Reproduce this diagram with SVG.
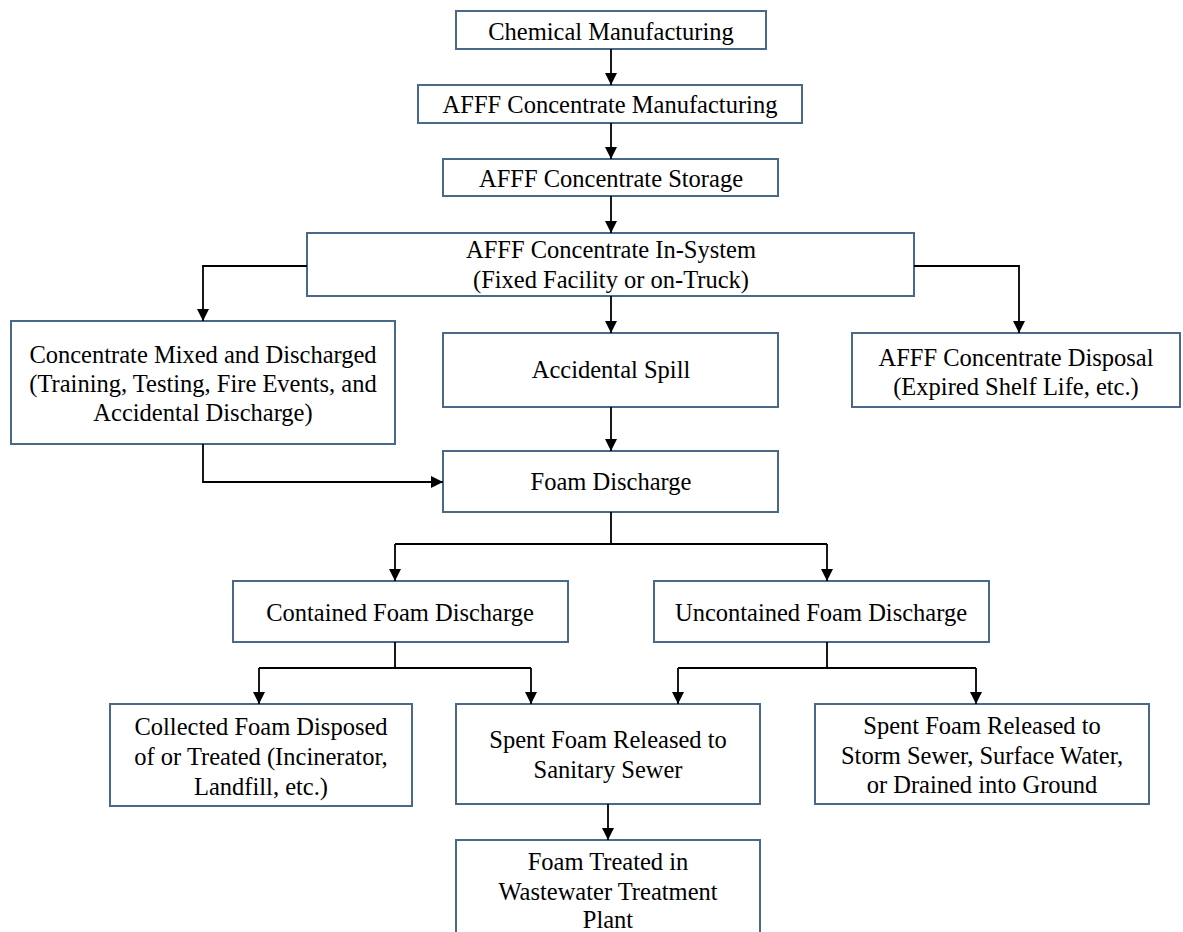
<svg xmlns="http://www.w3.org/2000/svg" width="1183" height="932" viewBox="0 0 1183 932">
<style>
.box{fill:#ffffff;stroke:#4a6888;stroke-width:2}
.t{font-family:"Liberation Serif","Times New Roman",serif;font-size:24.5px;fill:#000;text-anchor:middle}
.c{fill:none;stroke:#000;stroke-width:1.8}
</style>
<defs>
<marker id="ah" markerUnits="userSpaceOnUse" markerWidth="14" markerHeight="14" refX="12" refY="6" orient="auto">
<path d="M0,0 L12,6 L0,12 Z" fill="#000"/>
</marker>
</defs>
<rect width="1183" height="932" fill="#ffffff"/>
<g id="n1"><rect class="box" x="456" y="11" width="310" height="38"/><text class="t" x="611" y="40">Chemical Manufacturing</text></g>
<g id="n2"><rect class="box" x="418" y="85" width="384" height="38"/><text class="t" x="610" y="113">AFFF Concentrate Manufacturing</text></g>
<g id="n3"><rect class="box" x="443" y="159" width="335" height="37"/><text class="t" x="611" y="187">AFFF Concentrate Storage</text></g>
<g id="n4"><rect class="box" x="307" y="233" width="607" height="63"/><text class="t" x="611" y="258">AFFF Concentrate In-System</text><text class="t" x="611" y="288">(Fixed Facility or on-Truck)</text></g>
<g id="n5"><rect class="box" x="11" y="321" width="384" height="123"/><text class="t" x="203" y="363">Concentrate Mixed and Discharged</text><text class="t" x="203" y="392">(Training, Testing, Fire Events, and</text><text class="t" x="203" y="421">Accidental Discharge)</text></g>
<g id="n6"><rect class="box" x="443" y="333" width="335" height="74"/><text class="t" x="611" y="378">Accidental Spill</text></g>
<g id="n7"><rect class="box" x="852" y="333" width="328" height="74"/><text class="t" x="1016" y="366">AFFF Concentrate Disposal</text><text class="t" x="1016" y="395">(Expired Shelf Life, etc.)</text></g>
<g id="n8"><rect class="box" x="443" y="451" width="335" height="61"/><text class="t" x="611" y="490">Foam Discharge</text></g>
<g id="n9"><rect class="box" x="233" y="581" width="335" height="61"/><text class="t" x="400" y="621">Contained Foam Discharge</text></g>
<g id="n10"><rect class="box" x="654" y="581" width="335" height="61"/><text class="t" x="821" y="621">Uncontained Foam Discharge</text></g>
<g id="n11"><rect class="box" x="110" y="704" width="302" height="102"/><text class="t" x="261" y="735">Collected Foam Disposed</text><text class="t" x="261" y="765">of or Treated (Incinerator,</text><text class="t" x="261" y="795">Landfill, etc.)</text></g>
<g id="n12"><rect class="box" x="456" y="704" width="304" height="100"/><text class="t" x="608" y="748">Spent Foam Released to</text><text class="t" x="608" y="778">Sanitary Sewer</text></g>
<g id="n13"><rect class="box" x="815" y="704" width="334" height="100"/><text class="t" x="982" y="734">Spent Foam Released to</text><text class="t" x="982" y="764">Storm Sewer, Surface Water,</text><text class="t" x="982" y="793">or Drained into Ground</text></g>
<g id="n14"><rect class="box" x="456" y="840" width="304" height="100"/><text class="t" x="608" y="870">Foam Treated in</text><text class="t" x="608" y="900">Wastewater Treatment</text><text class="t" x="608" y="928">Plant</text></g>
<g id="connectors">
<path class="c" d="M611,49 V85" marker-end="url(#ah)"/>
<path class="c" d="M611,123 V159" marker-end="url(#ah)"/>
<path class="c" d="M611,196 V233" marker-end="url(#ah)"/>
<path class="c" d="M307,266 H203 V321" marker-end="url(#ah)"/>
<path class="c" d="M914,266 H1019 V333" marker-end="url(#ah)"/>
<path class="c" d="M611,296 V333" marker-end="url(#ah)"/>
<path class="c" d="M611,407 V451" marker-end="url(#ah)"/>
<path class="c" d="M203,444 V482 H443" marker-end="url(#ah)"/>
<path class="c" d="M611,512 V544 M395,544 H827"/>
<path class="c" d="M395,544 V581" marker-end="url(#ah)"/>
<path class="c" d="M827,544 V581" marker-end="url(#ah)"/>
<path class="c" d="M395,642 V668 M259,668 H531"/>
<path class="c" d="M259,668 V704" marker-end="url(#ah)"/>
<path class="c" d="M531,668 V704" marker-end="url(#ah)"/>
<path class="c" d="M827,642 V668 M678,668 H976"/>
<path class="c" d="M678,668 V704" marker-end="url(#ah)"/>
<path class="c" d="M976,668 V704" marker-end="url(#ah)"/>
<path class="c" d="M608,804 V840" marker-end="url(#ah)"/>
</g>
</svg>
